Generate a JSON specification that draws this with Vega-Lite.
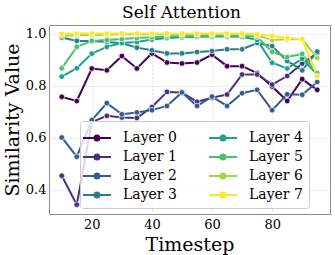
{
  "$schema": "https://vega.github.io/schema/vega-lite/v6.json",
  "width": 281,
  "height": 189,
  "autosize": {"type": "none"},
  "padding": {"left": 49, "top": 25, "right": 5, "bottom": 41},
  "title": {"text": "Self Attention", "font": "DejaVu Serif", "fontSize": 17, "fontWeight": "normal", "color": "#000", "offset": 3, "dx": -8},
  "config": {"view": {"stroke": "#8c8c8c", "strokeWidth": 1}, "font": "DejaVu Serif"},
  "datasets": {
    "sim": [
      {"t":10,"layer":"Layer 0","v":0.757},{"t":15,"layer":"Layer 0","v":0.741},{"t":20,"layer":"Layer 0","v":0.866},{"t":25,"layer":"Layer 0","v":0.859},{"t":30,"layer":"Layer 0","v":0.914},{"t":35,"layer":"Layer 0","v":0.866},{"t":40,"layer":"Layer 0","v":0.924},{"t":45,"layer":"Layer 0","v":0.889},{"t":50,"layer":"Layer 0","v":0.885},{"t":55,"layer":"Layer 0","v":0.889},{"t":60,"layer":"Layer 0","v":0.919},{"t":65,"layer":"Layer 0","v":0.875},{"t":70,"layer":"Layer 0","v":0.875},{"t":75,"layer":"Layer 0","v":0.848},{"t":80,"layer":"Layer 0","v":0.797},{"t":85,"layer":"Layer 0","v":0.741},{"t":90,"layer":"Layer 0","v":0.825},{"t":95,"layer":"Layer 0","v":0.784},
      {"t":10,"layer":"Layer 1","v":0.454},{"t":15,"layer":"Layer 1","v":0.343},{"t":20,"layer":"Layer 1","v":0.660},{"t":25,"layer":"Layer 1","v":0.684},{"t":30,"layer":"Layer 1","v":0.678},{"t":35,"layer":"Layer 1","v":0.676},{"t":40,"layer":"Layer 1","v":0.718},{"t":45,"layer":"Layer 1","v":0.776},{"t":50,"layer":"Layer 1","v":0.774},{"t":55,"layer":"Layer 1","v":0.738},{"t":60,"layer":"Layer 1","v":0.754},{"t":65,"layer":"Layer 1","v":0.766},{"t":70,"layer":"Layer 1","v":0.843},{"t":75,"layer":"Layer 1","v":0.843},{"t":80,"layer":"Layer 1","v":0.804},{"t":85,"layer":"Layer 1","v":0.837},{"t":90,"layer":"Layer 1","v":0.885},{"t":95,"layer":"Layer 1","v":0.925},
      {"t":10,"layer":"Layer 2","v":0.601},{"t":15,"layer":"Layer 2","v":0.527},{"t":20,"layer":"Layer 2","v":0.668},{"t":25,"layer":"Layer 2","v":0.733},{"t":30,"layer":"Layer 2","v":0.690},{"t":35,"layer":"Layer 2","v":0.697},{"t":40,"layer":"Layer 2","v":0.706},{"t":45,"layer":"Layer 2","v":0.722},{"t":50,"layer":"Layer 2","v":0.774},{"t":55,"layer":"Layer 2","v":0.722},{"t":60,"layer":"Layer 2","v":0.758},{"t":65,"layer":"Layer 2","v":0.722},{"t":70,"layer":"Layer 2","v":0.771},{"t":75,"layer":"Layer 2","v":0.784},{"t":80,"layer":"Layer 2","v":0.706},{"t":85,"layer":"Layer 2","v":0.767},{"t":90,"layer":"Layer 2","v":0.765},{"t":95,"layer":"Layer 2","v":0.814},
      {"t":10,"layer":"Layer 3","v":0.985},{"t":15,"layer":"Layer 3","v":0.972},{"t":20,"layer":"Layer 3","v":0.972},{"t":25,"layer":"Layer 3","v":0.968},{"t":30,"layer":"Layer 3","v":0.963},{"t":35,"layer":"Layer 3","v":0.946},{"t":40,"layer":"Layer 3","v":0.936},{"t":45,"layer":"Layer 3","v":0.924},{"t":50,"layer":"Layer 3","v":0.924},{"t":55,"layer":"Layer 3","v":0.929},{"t":60,"layer":"Layer 3","v":0.933},{"t":65,"layer":"Layer 3","v":0.940},{"t":70,"layer":"Layer 3","v":0.940},{"t":75,"layer":"Layer 3","v":0.964},{"t":80,"layer":"Layer 3","v":0.952},{"t":85,"layer":"Layer 3","v":0.895},{"t":90,"layer":"Layer 3","v":0.859},{"t":95,"layer":"Layer 3","v":0.931},
      {"t":10,"layer":"Layer 4","v":0.835},{"t":15,"layer":"Layer 4","v":0.867},{"t":20,"layer":"Layer 4","v":0.923},{"t":25,"layer":"Layer 4","v":0.949},{"t":30,"layer":"Layer 4","v":0.964},{"t":35,"layer":"Layer 4","v":0.968},{"t":40,"layer":"Layer 4","v":0.977},{"t":45,"layer":"Layer 4","v":0.983},{"t":50,"layer":"Layer 4","v":0.986},{"t":55,"layer":"Layer 4","v":0.988},{"t":60,"layer":"Layer 4","v":0.989},{"t":65,"layer":"Layer 4","v":0.989},{"t":70,"layer":"Layer 4","v":0.988},{"t":75,"layer":"Layer 4","v":0.976},{"t":80,"layer":"Layer 4","v":0.888},{"t":85,"layer":"Layer 4","v":0.866},{"t":90,"layer":"Layer 4","v":0.903},{"t":95,"layer":"Layer 4","v":0.843},
      {"t":10,"layer":"Layer 5","v":0.867},{"t":15,"layer":"Layer 5","v":0.949},{"t":20,"layer":"Layer 5","v":0.972},{"t":25,"layer":"Layer 5","v":0.975},{"t":30,"layer":"Layer 5","v":0.979},{"t":35,"layer":"Layer 5","v":0.983},{"t":40,"layer":"Layer 5","v":0.986},{"t":45,"layer":"Layer 5","v":0.989},{"t":50,"layer":"Layer 5","v":0.991},{"t":55,"layer":"Layer 5","v":0.992},{"t":60,"layer":"Layer 5","v":0.993},{"t":65,"layer":"Layer 5","v":0.993},{"t":70,"layer":"Layer 5","v":0.993},{"t":75,"layer":"Layer 5","v":0.988},{"t":80,"layer":"Layer 5","v":0.930},{"t":85,"layer":"Layer 5","v":0.910},{"t":90,"layer":"Layer 5","v":0.922},{"t":95,"layer":"Layer 5","v":0.848},
      {"t":10,"layer":"Layer 6","v":0.992},{"t":15,"layer":"Layer 6","v":0.994},{"t":20,"layer":"Layer 6","v":0.995},{"t":25,"layer":"Layer 6","v":0.996},{"t":30,"layer":"Layer 6","v":0.997},{"t":35,"layer":"Layer 6","v":0.997},{"t":40,"layer":"Layer 6","v":0.997},{"t":45,"layer":"Layer 6","v":0.997},{"t":50,"layer":"Layer 6","v":0.997},{"t":55,"layer":"Layer 6","v":0.997},{"t":60,"layer":"Layer 6","v":0.997},{"t":65,"layer":"Layer 6","v":0.997},{"t":70,"layer":"Layer 6","v":0.997},{"t":75,"layer":"Layer 6","v":0.993},{"t":80,"layer":"Layer 6","v":0.975},{"t":85,"layer":"Layer 6","v":0.978},{"t":90,"layer":"Layer 6","v":0.978},{"t":95,"layer":"Layer 6","v":0.907},
      {"t":10,"layer":"Layer 7","v":0.999},{"t":15,"layer":"Layer 7","v":1.0},{"t":20,"layer":"Layer 7","v":1.0},{"t":25,"layer":"Layer 7","v":1.0},{"t":30,"layer":"Layer 7","v":1.0},{"t":35,"layer":"Layer 7","v":1.0},{"t":40,"layer":"Layer 7","v":1.0},{"t":45,"layer":"Layer 7","v":1.0},{"t":50,"layer":"Layer 7","v":1.0},{"t":55,"layer":"Layer 7","v":1.0},{"t":60,"layer":"Layer 7","v":1.0},{"t":65,"layer":"Layer 7","v":1.0},{"t":70,"layer":"Layer 7","v":1.0},{"t":75,"layer":"Layer 7","v":0.997},{"t":80,"layer":"Layer 7","v":0.992},{"t":85,"layer":"Layer 7","v":0.983},{"t":90,"layer":"Layer 7","v":0.978},{"t":95,"layer":"Layer 7","v":0.837}
    ]
  },
  "data": {"name": "sim"},
  "encoding": {
    "x": {
      "field": "t", "type": "quantitative",
      "scale": {"domain": [5.75, 99.25], "nice": false, "zero": false},
      "axis": {"values": [20, 40, 60, 80], "title": "Timestep", "titleFont": "DejaVu Serif", "titleFontSize": 19, "titleFontWeight": "normal", "titleColor": "#000", "titlePadding": 4,
               "labelFont": "DejaVu Serif", "labelFontSize": 13, "labelColor": "#000", "labelPadding": 4, "labelFlush": false,
               "domain": false, "ticks": false, "grid": true, "gridColor": "#d9d9d9", "gridDash": [2, 2], "gridWidth": 0.8}
    },
    "y": {
      "field": "v", "type": "quantitative",
      "scale": {"domain": [0.307, 1.033], "nice": false, "zero": false},
      "axis": {"values": [0.4, 0.6, 0.8, 1.0], "format": ".1f", "title": "Similarity Value", "titleFont": "DejaVu Serif", "titleFontSize": 19, "titleFontWeight": "normal", "titleColor": "#000", "titlePadding": 3,
               "labelFont": "DejaVu Serif", "labelFontSize": 13, "labelColor": "#000", "labelPadding": 3, "labelFlush": false,
               "domain": false, "ticks": false, "grid": true, "gridColor": "#d9d9d9", "gridDash": [2, 2], "gridWidth": 0.8}
    },
    "color": {
      "field": "layer", "type": "nominal",
      "scale": {"domain": ["Layer 0","Layer 1","Layer 2","Layer 3","Layer 4","Layer 5","Layer 6","Layer 7"],
                "range": ["#440154","#46327e","#365c8d","#277f8e","#1fa187","#4ac16d","#a0da39","#fde725"]},
      "legend": {
        "orient": "none", "legendX": 31, "legendY": 96, "title": null, "columns": 2,
        "symbolType": "M-1.4,0H1.4M-0.25,0A0.25,0.25 0 1,0 0.25,0A0.25,0.25 0 1,0 -0.25,0",
        "symbolSize": 400, "symbolStrokeWidth": 2, "symbolOpacity": 1,
        "labelFont": "DejaVu Serif", "labelFontSize": 14, "labelColor": "#000", "labelOffset": 15,
        "columnPadding": 28, "rowPadding": 1, "padding": 6,
        "fillColor": "rgba(255,255,255,0.8)", "strokeColor": "#cccccc", "cornerRadius": 3,
        "encode": {"symbols": {"update": {"fill": {"scale": "color", "field": "value"}, "stroke": {"scale": "color", "field": "value"}, "opacity": {"value": 1}}}}
      }
    }
  },
  "layer": [
    {"mark": {"type": "line", "strokeWidth": 2}},
    {"mark": {"type": "point", "filled": true, "size": 32, "stroke": "white", "strokeWidth": 0.7, "opacity": 1}}
  ]
}
